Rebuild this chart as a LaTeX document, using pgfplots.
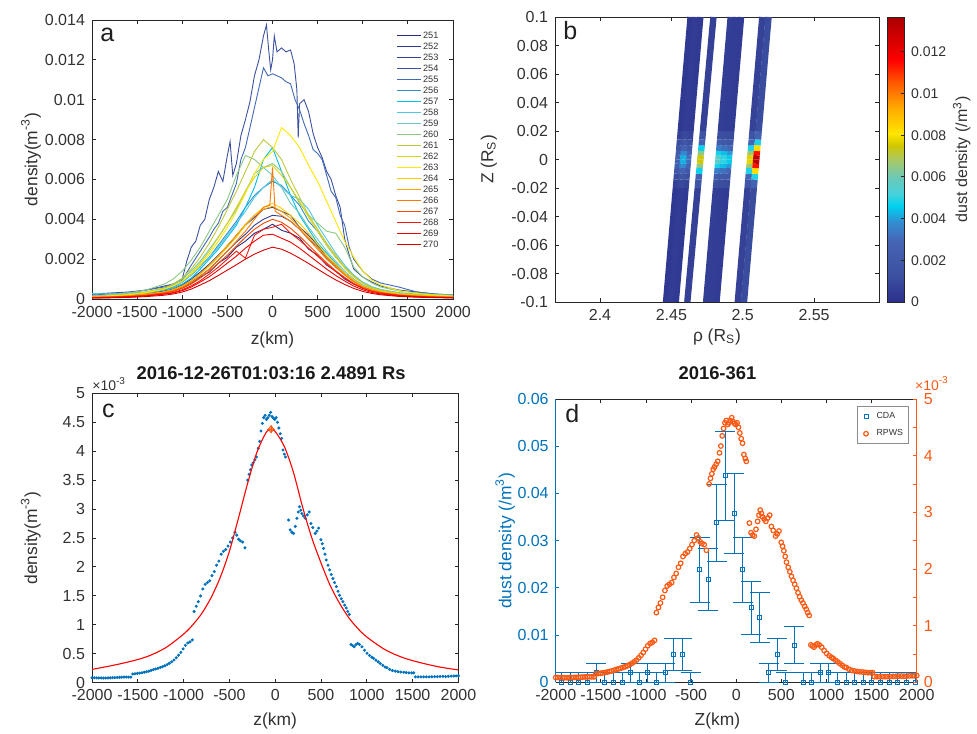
\documentclass[border=0pt]{standalone}
\usepackage{fontspec}
\setmainfont{Liberation Sans}
\usepackage{pgfplots}
\usepackage{pgfplotstable}
\pgfplotsset{compat=1.18}

\definecolor{axgray}{RGB}{38,38,38}
\definecolor{txgray}{RGB}{50,50,50}
\definecolor{mblue}{RGB}{0,114,189}
\definecolor{morange}{RGB}{250,90,20}
\definecolor{c251}{RGB}{40,45,130}
\definecolor{c252}{RGB}{45,55,140}
\definecolor{c253}{RGB}{50,65,150}
\definecolor{c254}{RGB}{60,80,160}
\definecolor{c255}{RGB}{65,105,180}
\definecolor{c256}{RGB}{50,140,200}
\definecolor{c257}{RGB}{0,190,230}
\definecolor{c258}{RGB}{80,200,230}
\definecolor{c259}{RGB}{110,200,190}
\definecolor{c260}{RGB}{140,200,130}
\definecolor{c261}{RGB}{190,200,60}
\definecolor{c262}{RGB}{220,210,20}
\definecolor{c263}{RGB}{255,230,0}
\definecolor{c264}{RGB}{255,205,0}
\definecolor{c265}{RGB}{255,165,0}
\definecolor{c266}{RGB}{255,120,0}
\definecolor{c267}{RGB}{255,70,0}
\definecolor{c268}{RGB}{255,20,10}
\definecolor{c269}{RGB}{245,0,0}
\definecolor{c270}{RGB}{215,0,0}

\pgfplotsset{
 mat/.style={scale only axis, anchor=south west,
  axis line style={draw=axgray, line width=0.45pt},
  tick style={draw=axgray, line width=0.45pt},
  major tick length=1.8pt, minor tick length=1.8pt, tick align=inside,
  tick label style={font=\fontsize{8}{9}\selectfont, text=txgray},
  label style={font=\fontsize{8.7}{10}\selectfont, text=txgray},
  scaled ticks=false, clip mode=individual,
  every axis title shift=0pt,
 },
 mjetmap/.style={colormap={mjet}{rgb255(0pt)=(43,47,140); rgb255(9pt)=(60,80,160); rgb255(21pt)=(70,100,180); rgb255(28pt)=(50,140,210); rgb255(34pt)=(0,210,240); rgb255(38pt)=(70,210,220); rgb255(44pt)=(110,200,180); rgb255(50pt)=(170,200,100); rgb255(55pt)=(210,200,0); rgb255(59pt)=(255,230,0); rgb255(68pt)=(255,170,0); rgb255(77pt)=(255,90,0); rgb255(85pt)=(255,0,0); rgb255(100pt)=(170,0,0)},
  point meta min=0, point meta max=13.67},
 track/.style={mesh, point meta=explicit, line width=3.2pt},
}
\tikzset{panlab/.style={anchor=base west, font=\fontsize{12.5}{14}\selectfont, text=black!88, inner sep=0pt}}

\pgfplotstableread{
z v
-2000 0.085
-1975 0.085
-1950 0.083
-1925 0.082
-1900 0.082
-1875 0.080
-1850 0.082
-1825 0.083
-1800 0.085
-1775 0.087
-1750 0.088
-1725 0.090
-1700 0.092
-1675 0.095
-1650 0.097
-1625 0.098
-1600 0.097
-1575 0.096
-1555 0.150
-1530 0.155
-1505 0.160
-1480 0.166
-1455 0.172
-1430 0.180
-1405 0.190
-1380 0.200
-1355 0.212
-1330 0.225
-1305 0.237
-1280 0.248
-1255 0.262
-1230 0.276
-1205 0.292
-1180 0.312
-1155 0.336
-1130 0.362
-1105 0.392
-1080 0.432
-1055 0.475
-1030 0.525
-1005 0.585
-980 0.645
-955 0.685
-930 0.705
-905 0.740
-885 1.23
-862 1.32
-840 1.40
-815 1.50
-790 1.62
-765 1.70
-740 1.73
-715 1.76
-690 1.85
-665 1.92
-640 2.03
-615 2.10
-590 2.22
-565 2.27
-540 2.30
-515 2.36
-490 2.43
-465 2.50
-440 2.60
-420 2.55
-400 2.48
-380 2.45
-355 2.43
-330 2.33
-300 3.50
-285 3.60
-270 3.68
-255 3.76
-240 3.80
-222 3.85
-205 3.90
-185 4.05
-170 4.17
-155 4.35
-140 4.48
-125 4.58
-110 4.62
-95 4.55
-80 4.58
-65 4.62
-50 4.67
-35 4.60
-20 4.57
-5 4.55
10 4.58
25 4.50
40 4.40
55 4.30
70 4.22
85 4.02
100 3.95
112 3.90
146 2.81
164 2.64
182 2.60
200 2.58
219 2.70
237 2.84
252 2.95
266 3.04
280 2.98
291 2.92
310 2.88
328 2.84
350 2.90
371 2.95
390 2.75
410 2.68
437 2.58
455 2.62
474 2.67
499 2.47
514 2.40
528 2.32
543 2.22
557 2.12
576 2.03
594 1.95
612 1.87
630 1.80
648 1.73
667 1.66
685 1.58
703 1.51
721 1.45
739 1.40
758 1.34
776 1.29
792 1.23
809 1.18
827 0.66
845 0.64
863 0.62
882 0.66
900 0.68
920 0.66
947 0.62
975 0.56
1002 0.51
1030 0.47
1055 0.44
1075 0.42
1100 0.39
1125 0.36
1148 0.33
1175 0.30
1200 0.27
1220 0.26
1250 0.23
1280 0.21
1311 0.20
1340 0.19
1370 0.185
1403 0.18
1430 0.175
1460 0.17
1490 0.17
1512 0.17
1530 0.100
1560 0.100
1590 0.100
1620 0.100
1650 0.100
1680 0.100
1710 0.102
1740 0.105
1770 0.105
1800 0.108
1830 0.110
1860 0.106
1890 0.110
1920 0.114
1950 0.115
1975 0.117
2000 0.120
}\rpws

\pgfplotstableread{
z v e
-1934 0 0.002
-1838.5 0 0.002
-1743 0 0.002
-1647.5 0 0.002
-1552 0.002 0.002
-1456.5 0 0.002
-1361 0 0.002
-1265.5 0 0.002
-1170 0.002 0.002
-1074.5 0 0.002
-979 0.002 0.002
-883.5 0 0.002
-788 0.002 0.002
-692.5 0.0058 0.0034
-597 0.0058 0.0034
-501.5 0 0.002
-406 0.0238 0.0069
-310.5 0.0218 0.0066
-215 0.0338 0.0082
-119.5 0.0437 0.0094
-24 0.0357 0.0085
71.5 0.0238 0.0069
167 0.0158 0.0056
262.5 0.0138 0.0053
358 0.002 0.002
453.5 0.0058 0.0034
549 0 0.002
644.5 0.0079 0.004
740 0 0.002
835.5 0 0.002
931 0.002 0.002
1026.5 0.002 0.002
1122 0 0.002
1217.5 0 0.002
1313 0 0.002
1408.5 0 0.002
1504 0 0.002
1599.5 0 0.002
1695 0 0.002
1790.5 0 0.002
1886 0 0.002
1981.5 0 0.002
}\cda

\pgfplotstableread{
x y m
0 0 0
1 0 0
0 1 1
1 1 1
0 2 2
1 2 2
0 3 3
1 3 3
0 4 4
1 4 4
0 5 5
1 5 5
0 6 6
1 6 6
0 7 7
1 7 7
0 8 8
1 8 8
0 9 9
1 9 9
0 10 10
1 10 10
0 11 11
1 11 11
0 12 12
1 12 12
0 13 13
1 13 13
0 13.67 13.67
1 13.67 13.67
}\cbar

\begin{document}
\begin{tikzpicture}
\useasboundingbox (0,0) rectangle (488.5pt,366.5pt);

% ---------------- panel a ----------------
\begin{axis}[mat, at={(46pt,217pt)}, width=180.5pt, height=139.5pt,
  xmin=-2000, xmax=2000, ymin=0, ymax=14,
  xtick={-2000,-1500,-1000,-500,0,500,1000,1500,2000},
  xticklabels={-2000,-1500,-1000,-500,0,500,1000,1500,2000},
  ytick={0,2,4,6,8,10,12,14},
  yticklabels={0,0.002,0.004,0.006,0.008,0.01,0.012,0.014},
  xlabel={z(km)}, ylabel={density(m\textsuperscript{-3})},
  xlabel style={at={(axis description cs:0.5,-0.147)}, anchor=center},
  ylabel style={at={(axis description cs:-0.169,0.5)}, anchor=center},
  every axis plot/.append style={line width=0.45pt},
  legend style={draw=none, fill=none, at={(rel axis cs:1,1)}, anchor=north east,
    xshift=-3.5pt, yshift=-2.8pt, font=\fontsize{4.6}{5}\selectfont, text=txgray,
    row sep=0pt, nodes={inner sep=0.6pt, text height=3.5pt, text depth=0.8pt}},
  legend image code/.code={\draw[#1] (0pt,0pt) -- (12.3pt,0pt);},
  legend cell align=left,
]
\addplot[c251] coordinates {(-2000,0.10)(-1800,0.12)(-1600,0.15)(-1400,0.22)(-1200,0.35)(-1100,0.42)(-1000,0.55)(-900,0.80)(-800,1.10)(-700,1.35)(-600,1.80)(-500,2.10)(-400,2.60)(-300,2.90)(-200,3.30)(-100,3.50)(0,3.75)(100,3.45)(200,3.30)(300,3.05)(400,2.50)(500,2.20)(600,1.70)(700,1.40)(800,1.00)(900,0.75)(1000,0.55)(1100,0.40)(1200,0.30)(1400,0.20)(1600,0.15)(1800,0.12)(2000,0.10)};
\addlegendentry{251}
\addplot[c252] coordinates {(-2000,0.12)(-1800,0.15)(-1600,0.18)(-1400,0.25)(-1200,0.40)(-1100,0.50)(-1000,0.70)(-900,1.00)(-800,1.35)(-700,1.75)(-600,2.20)(-500,2.65)(-400,3.20)(-300,3.70)(-200,4.10)(-100,4.50)(0,4.60)(100,4.40)(200,4.20)(300,3.60)(400,3.20)(500,2.70)(600,2.10)(700,1.70)(800,1.30)(900,0.95)(1000,0.65)(1100,0.48)(1200,0.38)(1400,0.25)(1600,0.18)(1800,0.14)(2000,0.12)};
\addlegendentry{252}
\addplot[c253] coordinates {(-2000,0.10)(-1800,0.14)(-1600,0.16)(-1400,0.22)(-1200,0.35)(-1100,0.45)(-1000,0.60)(-900,0.85)(-800,1.15)(-700,1.50)(-600,1.95)(-500,2.40)(-400,2.85)(-300,3.25)(-200,3.70)(-100,4.00)(0,4.20)(100,4.15)(200,3.90)(300,3.50)(400,3.00)(500,2.60)(600,2.05)(700,1.60)(800,1.25)(900,0.90)(1000,0.65)(1100,0.45)(1200,0.35)(1400,0.22)(1600,0.16)(1800,0.13)(2000,0.10)};
\addlegendentry{253}
\addplot[c254] coordinates {(-2000,0.25)(-1800,0.30)(-1600,0.35)(-1400,0.45)(-1200,0.65)(-1100,0.75)(-1000,1.00)(-950,1.90)(-900,2.60)(-850,2.90)(-800,3.70)(-750,4.00)(-700,5.00)(-650,5.60)(-600,6.40)(-550,5.90)(-500,7.20)(-470,7.90)(-440,6.20)(-400,6.80)(-350,8.20)(-300,9.00)(-250,9.90)(-200,11.20)(-150,12.00)(-100,13.20)(-67,13.75)(-40,12.40)(-20,11.50)(0,12.00)(20,13.20)(50,12.40)(100,12.60)(150,12.40)(200,12.50)(240,11.80)(270,10.50)(285,8.10)(300,9.80)(350,10.00)(400,9.40)(450,8.30)(500,7.60)(550,7.10)(600,6.40)(650,6.00)(700,5.20)(750,4.60)(800,3.00)(850,2.20)(900,1.50)(1000,1.10)(1100,0.85)(1200,0.65)(1400,0.45)(1600,0.35)(1800,0.25)(2000,0.20)};
\addlegendentry{254}
\addplot[c255] coordinates {(-2000,0.20)(-1800,0.25)(-1600,0.30)(-1400,0.45)(-1200,0.60)(-1100,0.75)(-1000,0.95)(-900,1.70)(-800,2.40)(-700,3.10)(-650,3.50)(-600,3.80)(-550,4.40)(-500,4.60)(-450,5.20)(-400,5.80)(-350,7.00)(-300,7.60)(-250,8.60)(-200,9.60)(-150,10.60)(-100,11.60)(-50,11.20)(0,11.30)(50,11.20)(100,11.10)(150,10.90)(200,10.80)(250,10.00)(300,9.50)(350,8.80)(400,8.20)(450,7.50)(500,7.30)(550,7.00)(600,6.20)(650,5.40)(700,5.10)(750,4.20)(800,3.70)(850,2.60)(900,2.00)(1000,1.40)(1100,1.00)(1200,0.80)(1400,0.60)(1600,0.35)(1800,0.25)(2000,0.20)};
\addlegendentry{255}
\addplot[c256] coordinates {(-2000,0.12)(-1800,0.16)(-1600,0.20)(-1400,0.30)(-1200,0.48)(-1100,0.60)(-1000,0.85)(-900,1.20)(-800,1.65)(-700,2.10)(-600,2.70)(-500,3.30)(-400,3.90)(-300,4.60)(-200,5.20)(-100,5.60)(0,5.90)(100,5.70)(200,5.20)(300,4.70)(400,3.90)(500,3.40)(600,2.70)(700,2.10)(800,1.60)(900,1.15)(1000,0.80)(1100,0.58)(1200,0.45)(1400,0.28)(1600,0.20)(1800,0.15)(2000,0.12)};
\addlegendentry{256}
\addplot[c257] coordinates {(-2000,0.15)(-1800,0.18)(-1600,0.22)(-1400,0.30)(-1200,0.45)(-1100,0.55)(-1000,0.75)(-900,1.05)(-800,1.50)(-700,2.00)(-600,2.50)(-500,3.10)(-400,3.70)(-300,4.60)(-200,5.60)(-100,7.00)(0,7.60)(100,6.40)(200,5.20)(300,4.20)(400,3.50)(500,2.80)(600,2.30)(700,1.80)(800,1.30)(900,0.90)(1000,0.65)(1100,0.50)(1200,0.38)(1400,0.25)(1600,0.20)(1800,0.17)(2000,0.15)};
\addlegendentry{257}
\addplot[c258] coordinates {(-2000,0.28)(-1800,0.25)(-1600,0.30)(-1400,0.35)(-1200,0.50)(-1100,0.65)(-1000,0.85)(-900,1.20)(-800,1.60)(-700,2.10)(-600,2.60)(-500,3.20)(-400,3.80)(-300,4.40)(-200,5.10)(-100,5.60)(0,6.00)(100,5.60)(200,5.20)(300,5.00)(400,4.50)(500,3.70)(600,3.00)(700,2.30)(800,1.70)(900,1.20)(1000,0.85)(1100,0.62)(1200,0.48)(1400,0.32)(1600,0.25)(1800,0.22)(2000,0.20)};
\addlegendentry{258}
\addplot[c259] coordinates {(-2000,0.15)(-1800,0.18)(-1600,0.24)(-1400,0.35)(-1200,0.55)(-1100,0.70)(-1000,1.00)(-900,1.40)(-800,1.90)(-700,2.50)(-600,3.10)(-500,3.80)(-400,4.50)(-300,5.40)(-200,6.30)(-100,6.60)(0,6.20)(100,5.60)(200,4.80)(300,4.30)(400,3.60)(500,3.00)(600,2.40)(700,1.90)(800,1.40)(900,1.00)(1000,0.70)(1100,0.52)(1200,0.40)(1400,0.26)(1600,0.20)(1800,0.16)(2000,0.14)};
\addlegendentry{259}
\addplot[c260] coordinates {(-2000,0.15)(-1800,0.20)(-1600,0.30)(-1400,0.45)(-1200,0.75)(-1100,1.00)(-1000,1.40)(-900,1.95)(-800,2.60)(-700,3.40)(-600,4.20)(-500,5.00)(-400,6.20)(-300,7.20)(-200,7.00)(-100,6.60)(0,6.80)(100,6.40)(200,5.60)(300,4.80)(400,4.20)(500,3.80)(600,3.40)(700,3.30)(800,2.60)(900,1.60)(1000,1.10)(1100,0.80)(1200,0.60)(1400,0.40)(1600,0.30)(1800,0.22)(2000,0.18)};
\addlegendentry{260}
\addplot[c261] coordinates {(-2000,0.12)(-1800,0.16)(-1600,0.22)(-1400,0.35)(-1200,0.55)(-1100,0.75)(-1000,1.05)(-900,1.50)(-800,2.10)(-700,2.80)(-600,3.60)(-500,4.50)(-400,5.40)(-300,6.40)(-200,7.40)(-100,8.00)(0,7.60)(100,7.00)(200,6.00)(300,5.10)(400,4.20)(500,3.50)(600,2.80)(700,2.20)(800,1.60)(900,1.15)(1000,0.80)(1100,0.58)(1200,0.45)(1400,0.30)(1600,0.22)(1800,0.17)(2000,0.14)};
\addlegendentry{261}
\addplot[c262] coordinates {(-2000,0.10)(-1800,0.14)(-1600,0.20)(-1400,0.30)(-1200,0.50)(-1100,0.65)(-1000,0.90)(-900,1.30)(-800,1.80)(-700,2.40)(-600,3.10)(-500,3.80)(-400,4.60)(-300,5.40)(-200,6.10)(-100,6.60)(0,6.70)(100,6.20)(200,5.60)(300,4.90)(400,4.10)(500,3.40)(600,2.70)(700,2.10)(800,1.55)(900,1.10)(1000,0.78)(1100,0.55)(1200,0.42)(1400,0.27)(1600,0.20)(1800,0.15)(2000,0.12)};
\addlegendentry{262}
\addplot[c263] coordinates {(-2000,0.12)(-1800,0.16)(-1600,0.22)(-1400,0.32)(-1200,0.50)(-1100,0.65)(-1000,0.90)(-900,1.25)(-800,1.70)(-700,2.25)(-600,2.90)(-500,3.60)(-400,4.40)(-300,5.30)(-200,6.30)(-100,7.00)(0,7.40)(100,8.60)(200,8.20)(300,7.60)(400,6.70)(500,5.90)(600,4.90)(700,3.90)(800,2.90)(900,2.10)(1000,1.40)(1100,0.95)(1200,0.70)(1400,0.42)(1600,0.28)(1800,0.20)(2000,0.15)};
\addlegendentry{263}
\addplot[c264] coordinates {(-2000,0.08)(-1800,0.10)(-1600,0.14)(-1400,0.22)(-1200,0.35)(-1100,0.45)(-1000,0.62)(-900,0.90)(-800,1.25)(-700,1.65)(-600,2.10)(-500,2.60)(-400,3.10)(-300,3.70)(-200,4.20)(-100,4.60)(0,4.80)(100,4.55)(200,4.20)(300,3.80)(400,3.30)(500,2.75)(600,2.20)(700,1.75)(800,1.30)(900,0.95)(1000,0.65)(1100,0.48)(1200,0.36)(1400,0.23)(1600,0.16)(1800,0.12)(2000,0.10)};
\addlegendentry{264}
\addplot[c265] coordinates {(-2000,0.10)(-1800,0.12)(-1600,0.16)(-1400,0.24)(-1200,0.37)(-1100,0.48)(-1000,0.66)(-900,0.92)(-800,1.28)(-700,1.70)(-600,2.15)(-500,2.70)(-400,3.20)(-300,3.75)(-200,4.20)(-100,4.50)(0,4.65)(100,4.40)(200,4.05)(300,3.60)(400,3.10)(500,2.60)(600,2.10)(700,1.65)(800,1.25)(900,0.90)(1000,0.62)(1100,0.45)(1200,0.34)(1400,0.22)(1600,0.15)(1800,0.12)(2000,0.10)};
\addlegendentry{265}
\addplot[c266] coordinates {(-2000,0.08)(-1800,0.10)(-1600,0.14)(-1400,0.20)(-1200,0.32)(-1100,0.42)(-1000,0.58)(-900,0.82)(-800,1.15)(-700,1.50)(-600,1.95)(-500,2.40)(-400,2.90)(-300,3.40)(-200,4.00)(-100,4.60)(-30,4.70)(0,6.60)(30,4.40)(100,4.20)(200,3.90)(300,3.50)(400,3.00)(500,2.50)(600,2.00)(700,1.60)(800,1.20)(900,0.86)(1000,0.60)(1100,0.44)(1200,0.33)(1400,0.21)(1600,0.15)(1800,0.11)(2000,0.09)};
\addlegendentry{266}
\addplot[c267] coordinates {(-2000,0.08)(-1800,0.10)(-1600,0.13)(-1400,0.19)(-1200,0.30)(-1100,0.38)(-1000,0.53)(-900,0.75)(-800,1.05)(-700,1.40)(-600,1.80)(-500,2.20)(-400,2.65)(-300,3.10)(-200,3.50)(-100,3.80)(0,4.00)(100,3.85)(200,3.55)(300,3.15)(400,2.70)(500,2.25)(600,1.82)(700,1.42)(800,1.08)(900,0.78)(1000,0.55)(1100,0.40)(1200,0.30)(1400,0.19)(1600,0.13)(1800,0.10)(2000,0.08)};
\addlegendentry{267}
\addplot[c268] coordinates {(-2000,0.06)(-1800,0.08)(-1600,0.11)(-1400,0.16)(-1200,0.26)(-1100,0.33)(-1000,0.46)(-900,0.66)(-800,0.92)(-700,1.25)(-600,1.60)(-500,2.00)(-400,2.40)(-300,2.05)(-200,3.20)(-100,3.50)(0,3.60)(100,3.75)(200,3.30)(300,2.95)(400,2.55)(500,2.15)(600,1.75)(700,1.38)(800,1.05)(900,0.75)(1000,0.53)(1100,0.38)(1200,0.29)(1400,0.18)(1600,0.12)(1800,0.09)(2000,0.07)};
\addlegendentry{268}
\addplot[c269] coordinates {(-2000,0.05)(-1800,0.07)(-1600,0.10)(-1400,0.15)(-1200,0.24)(-1100,0.30)(-1000,0.42)(-900,0.60)(-800,0.85)(-700,1.12)(-600,1.45)(-500,1.80)(-400,2.15)(-300,2.55)(-200,2.90)(-100,3.20)(0,3.25)(100,3.05)(200,2.85)(300,2.55)(400,2.20)(500,1.85)(600,1.50)(700,1.18)(800,0.90)(900,0.65)(1000,0.46)(1100,0.33)(1200,0.25)(1400,0.15)(1600,0.10)(1800,0.08)(2000,0.06)};
\addlegendentry{269}
\addplot[c270] coordinates {(-2000,0.05)(-1800,0.06)(-1600,0.08)(-1400,0.12)(-1200,0.19)(-1100,0.25)(-1000,0.35)(-900,0.50)(-800,0.70)(-700,0.92)(-600,1.18)(-500,1.45)(-400,1.72)(-300,2.00)(-200,2.25)(-100,2.45)(0,2.60)(100,2.50)(200,2.30)(300,2.05)(400,1.78)(500,1.50)(600,1.22)(700,0.96)(800,0.73)(900,0.53)(1000,0.38)(1100,0.28)(1200,0.21)(1400,0.13)(1600,0.09)(1800,0.07)(2000,0.05)};
\addlegendentry{270}
\node[panlab] at ([xshift=4pt,yshift=-11pt]rel axis cs:0,1) {a};
\end{axis}

% ---------------- panel b ----------------
\begin{axis}[mat, mjetmap, at={(277.5pt,215.5pt)}, width=162pt, height=142.5pt,
  xmin=2.3685, xmax=2.5955, ymin=-0.1, ymax=0.1,
  xtick={2.4,2.45,2.5,2.55}, xticklabels={2.4,2.45,2.5,2.55},
  ytick={-0.1,-0.08,-0.06,-0.04,-0.02,0,0.02,0.04,0.06,0.08,0.1},
  yticklabels={-0.1,-0.08,-0.06,-0.04,-0.02,0,0.02,0.04,0.06,0.08,0.1},
  xlabel={ρ (R\textsubscript{S})}, ylabel={Z (R\textsubscript{S})},
  xlabel style={at={(axis description cs:0.5,-0.123)}, anchor=center},
  ylabel style={at={(axis description cs:-0.204,0.5)}, anchor=center},
]
\addplot[track] coordinates {(2.4463,-0.1)[0.225] (2.45318,-0.02)[0.5] (2.4537,-0.014)[0.825] (2.45404,-0.01)[1.325] (2.45438,-0.006)[2.075] (2.45464,-0.003)[2.525] (2.4549,0)[2.7] (2.45516,0.003)[2.525] (2.45542,0.006)[2.075] (2.45576,0.01)[1.325] (2.4561,0.014)[0.825] (2.45662,0.02)[0.5] (2.4635,0.1)[0.225]};
\addplot[track] coordinates {(2.4531,-0.1)[0.23] (2.45998,-0.02)[0.56] (2.4605,-0.014)[0.95] (2.46084,-0.01)[1.55] (2.46118,-0.006)[2.45] (2.46144,-0.003)[2.99] (2.4617,0)[3.2] (2.46196,0.003)[2.99] (2.46222,0.006)[2.45] (2.46256,0.01)[1.55] (2.4629,0.014)[0.95] (2.46342,0.02)[0.56] (2.4703,0.1)[0.23]};
\addplot[track] coordinates {(2.4497,-0.1)[0.242] (2.45658,-0.02)[0.704] (2.4571,-0.014)[1.25] (2.45744,-0.01)[2.09] (2.45778,-0.006)[3.35] (2.45804,-0.003)[4.106] (2.4583,0)[4.4] (2.45856,0.003)[4.106] (2.45882,0.006)[3.35] (2.45916,0.01)[2.09] (2.4595,0.014)[1.25] (2.46002,0.02)[0.704] (2.4669,0.1)[0.242]};
\addplot[track] coordinates {(2.4612,-0.1)[0.275] (2.46852,-0.02)[1.1] (2.46907,-0.014)[2.075] (2.46943,-0.01)[3.575] (2.4698,-0.006)[5.825] (2.47008,-0.003)[7.175] (2.47035,0)[7.7] (2.47062,0.003)[7.175] (2.4709,0.006)[5.825] (2.47127,0.01)[3.575] (2.47163,0.014)[2.075] (2.47218,0.02)[1.1] (2.4795,0.1)[0.275]};
\addplot[track] coordinates {(2.4744,-0.1)[0.255] (2.48128,-0.02)[0.86] (2.4818,-0.014)[1.575] (2.48214,-0.01)[2.675] (2.48248,-0.006)[4.325] (2.48274,-0.003)[5.315] (2.4830,0)[5.7] (2.48326,0.003)[5.315] (2.48352,0.006)[4.325] (2.48386,0.01)[2.675] (2.4842,0.014)[1.575] (2.48472,0.02)[0.86] (2.4916,0.1)[0.255]};
\addplot[track] coordinates {(2.48165,-0.1)[0.245] (2.48853,-0.02)[0.74] (2.48905,-0.014)[1.325] (2.48939,-0.01)[2.225] (2.48973,-0.006)[3.575] (2.48999,-0.003)[4.385] (2.49025,0)[4.7] (2.49051,0.003)[4.385] (2.49077,0.006)[3.575] (2.49111,0.01)[2.225] (2.49145,0.014)[1.325] (2.49197,0.02)[0.74] (2.49885,0.1)[0.245]};
\addplot[track] coordinates {(2.4780,-0.1)[0.25] (2.48488,-0.02)[0.8] (2.4854,-0.014)[1.45] (2.48574,-0.01)[2.45] (2.48608,-0.006)[3.95] (2.48634,-0.003)[4.85] (2.4866,0)[5.2] (2.48686,0.003)[4.85] (2.48712,0.006)[3.95] (2.48746,0.01)[2.45] (2.4878,0.014)[1.45] (2.48832,0.02)[0.8] (2.4952,0.1)[0.25]};
\addplot[track] coordinates {(2.49655,-0.1)[0.278] (2.50343,-0.02)[1.136] (2.50395,-0.014)[2.15] (2.50429,-0.01)[3.71] (2.50463,-0.006)[6.05] (2.50489,-0.003)[7.454] (2.50515,0)[8.0] (2.50541,0.003)[7.454] (2.50567,0.006)[6.05] (2.50601,0.01)[3.71] (2.50635,0.014)[2.15] (2.50687,0.02)[1.136] (2.51375,0.1)[0.278]};
\addplot[track] coordinates {(2.5009,-0.1)[0.334] (2.50778,-0.02)[1.808] (2.5083,-0.014)[3.55] (2.50864,-0.01)[6.23] (2.50898,-0.006)[10.25] (2.50924,-0.003)[12.66] (2.5095,0)[13.6] (2.50976,0.003)[12.66] (2.51002,0.006)[10.25] (2.51036,0.01)[6.23] (2.5107,0.014)[3.55] (2.51122,0.02)[1.808] (2.5181,0.1)[0.334]};
\node[panlab] at ([xshift=4pt,yshift=-11.5pt]rel axis cs:0,1) {b};
\end{axis}

% ---------------- colorbar of panel b ----------------
\begin{axis}[mjetmap, scale only axis, anchor=south west, at={(443.5pt,215.5pt)}, width=8.5pt, height=142.5pt,
  xmin=0, xmax=1, ymin=0, ymax=13.67, xtick=\empty, scaled ticks=false,
  ytick={0,2,4,6,8,10,12}, yticklabels={0,0.002,0.004,0.006,0.008,0.01,0.012},
  ytick pos=right, yticklabel pos=right, tick align=inside, major tick length=1.6pt,
  axis line style={draw=axgray, line width=0.45pt}, tick style={draw=axgray, line width=0.45pt},
  yticklabel style={font=\fontsize{7}{8}\selectfont, text=txgray},
  ylabel={dust density (/m\textsuperscript{3})},
  ylabel style={at={(axis description cs:4.39,0.5)}, anchor=center, font=\fontsize{8}{9}\selectfont, text=txgray},
  axis on top,
]
\addplot[surf, shader=interp, mesh/rows=15, mesh/cols=2, point meta=\thisrow{m}] table[x=x, y=y]{\cbar};
\end{axis}

% ---------------- panel c ----------------
\begin{axis}[mat, at={(46pt,25.15pt)}, width=183.2pt, height=144.7pt,
  xmin=-2000, xmax=2000, ymin=0, ymax=5,
  xtick={-2000,-1500,-1000,-500,0,500,1000,1500,2000},
  xticklabels={-2000,-1500,-1000,-500,0,500,1000,1500,2000},
  ytick={0,0.5,1,1.5,2,2.5,3,3.5,4,4.5,5},
  yticklabels={0,0.5,1,1.5,2,2.5,3,3.5,4,4.5,5},
  xlabel={z(km)}, ylabel={density(m\textsuperscript{-3})},
  xlabel style={at={(axis description cs:0.5,-0.131)}, anchor=center},
  ylabel style={at={(axis description cs:-0.167,0.5)}, anchor=center},
  title={2016-12-26T01:03:16 2.4891 Rs},
  title style={at={(axis description cs:0.489,1.068)}, anchor=center, font=\bfseries\fontsize{9.2}{11}\selectfont, text=black!90},
]
\addplot[color=mblue, only marks, mark=*, mark size=0.55pt, mark options={draw=none, fill=mblue}] table[x=z, y=v]{\rpws};
\addplot[red, line width=0.55pt, smooth] coordinates {(-2000,0.23) (-1800,0.29) (-1600,0.36) (-1400,0.45) (-1200,0.60) (-1000,0.84) (-900,1.00) (-800,1.20) (-700,1.47) (-600,1.82) (-500,2.27) (-400,2.85) (-300,3.45) (-200,3.98) (-100,4.32) (-45,4.38) (0,4.34) (100,4.08) (200,3.63) (300,3.03) (400,2.50) (500,2.07) (600,1.68) (700,1.38) (800,1.13) (900,0.94) (1000,0.79) (1200,0.57) (1400,0.43) (1600,0.34) (1800,0.27) (2000,0.22)};
\addplot[color=morange, only marks, mark=diamond*, mark size=1.8pt, mark options={draw=morange, fill=morange!60}] coordinates {(-45,4.38)};
\addplot[color=morange, only marks, mark=+, mark size=1.8pt, mark options={draw=morange, line width=0.5pt}] coordinates {(-45,4.38)};
\node[anchor=base west, inner sep=0pt, font=\fontsize{7}{8}\selectfont, text=txgray] at ([yshift=1.2pt]rel axis cs:0,1) {×10\textsuperscript{-3}};
\node[panlab] at ([xshift=4.8pt,yshift=-11.85pt]rel axis cs:0,1) {c};
\end{axis}

% ---------------- panel d (left axis) ----------------
\begin{axis}[mat, at={(277.85pt,25.35pt)}, width=180.5pt, height=141.65pt,
  xmin=-2000, xmax=2000, ymin=0, ymax=0.06,
  axis y line*=left,
  y axis line style={draw=mblue},
  ytick style={draw=mblue},
  yticklabel style={text=mblue},
  xtick={-2000,-1500,-1000,-500,0,500,1000,1500,2000},
  xticklabels={-2000,-1500,-1000,-500,0,500,1000,1500,2000},
  ytick={0,0.01,0.02,0.03,0.04,0.05,0.06},
  yticklabels={0,0.01,0.02,0.03,0.04,0.05,0.06},
  xlabel={Z(km)}, ylabel={dust density (/m\textsuperscript{3})},
  xlabel style={at={(axis description cs:0.448,-0.135)}, anchor=center},
  ylabel style={at={(axis description cs:-0.14,0.5)}, anchor=center, text=mblue},
  title={2016-361},
  title style={at={(axis description cs:0.448,1.09)}, anchor=center, font=\bfseries\fontsize{9.2}{11}\selectfont, text=black!90},
]
\addplot[color=mblue, only marks, mark=square, mark size=1pt, line width=0.5pt,
  mark options={draw=mblue, fill=none, line width=0.5pt},
  error bars/.cd, y dir=both, y explicit,
  error bar style={line width=0.5pt, draw=mblue},
  error mark options={rotate=90, draw=mblue, mark size=5pt, line width=0.5pt}]
  table[x=z, y=v, y error=e]{\cda};
\node[panlab] at ([xshift=4.6pt,yshift=-11.85pt]rel axis cs:0,1) {d};
\end{axis}

% ---------------- panel d (right axis) ----------------
\begin{axis}[mat, at={(277.85pt,25.35pt)}, width=180.5pt, height=141.65pt,
  xmin=-2000, xmax=2000, ymin=0, ymax=5,
  axis x line=none, axis y line*=right, clip=false,
  y axis line style={draw=morange},
  ytick style={draw=morange},
  yticklabel style={text=morange},
  ytick={0,1,2,3,4,5}, yticklabels={0,1,2,3,4,5},
  minor ytick={0.5,1.5,2.5,3.5,4.5},
  legend style={at={(rel axis cs:1,1)}, anchor=north east, xshift=-3.85pt, yshift=-3.5pt,
    draw=black!45, fill=white, line width=0.4pt, font=\fontsize{4.4}{5}\selectfont, text=txgray,
    inner sep=0.8pt, row sep=0pt, cells={anchor=west}},
  legend image code/.code={\draw[#1] plot coordinates {(3pt,0pt)}; \path (0pt,0pt) (6pt,0pt);},
]
\addlegendimage{color=mblue, only marks, mark=square, mark size=1pt, mark options={draw=mblue, fill=none, line width=0.5pt}}
\addlegendentry{CDA}
\addplot[color=morange, only marks, mark=o, mark size=1.15pt, line width=0.6pt] table[x=z, y=v]{\rpws};
\addlegendentry{RPWS}
\node[anchor=base west, inner sep=0pt, font=\fontsize{7}{8}\selectfont, text=morange] at ([xshift=-1pt,yshift=4.5pt]rel axis cs:1,1) {×10\textsuperscript{-3}};
\end{axis}

\end{tikzpicture}
\end{document}
